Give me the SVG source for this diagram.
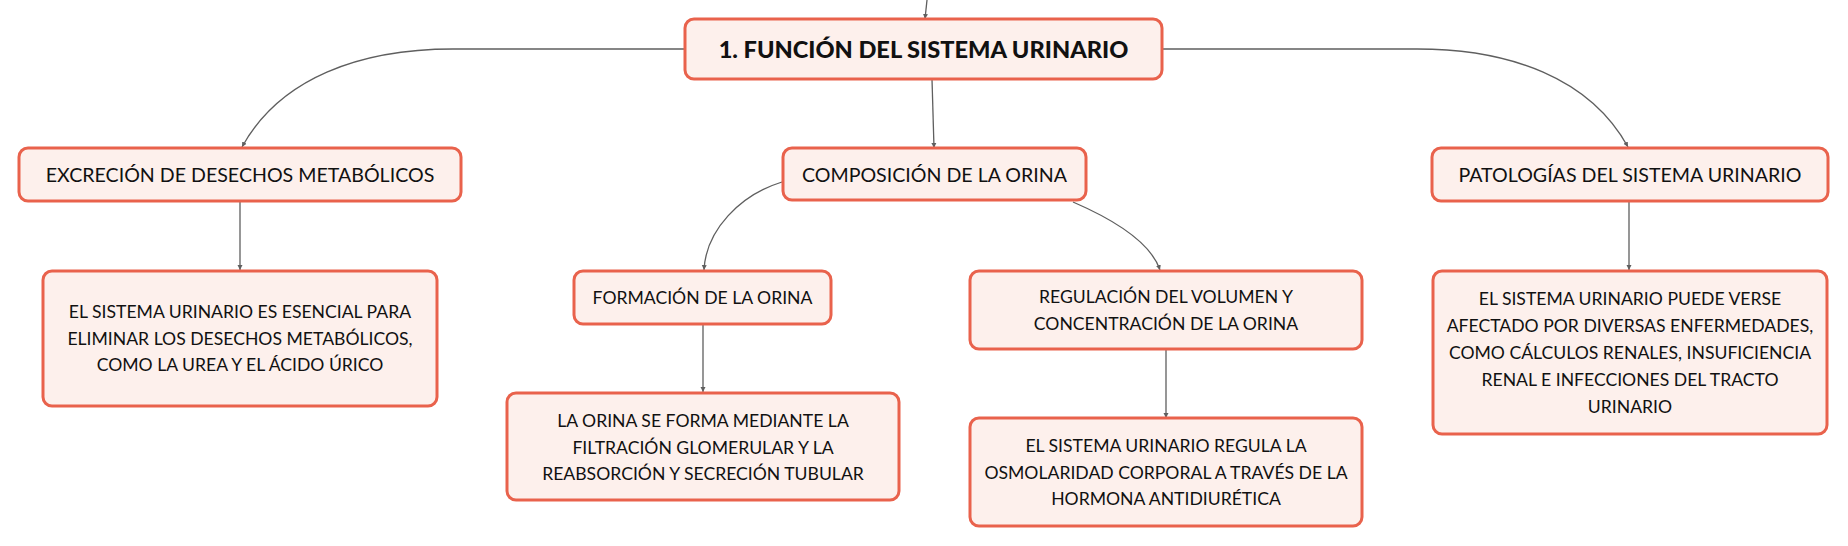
<svg xmlns="http://www.w3.org/2000/svg" width="1848" height="546" viewBox="0 0 1848 546">
<defs>
<style>
.box{fill:#fdf0ec;stroke:#e9624c;stroke-width:3}
.t{font-family:Lato,"Liberation Sans",sans-serif;font-size:17.6px;fill:#111;text-anchor:middle}
.h{font-family:Lato,"Liberation Sans",sans-serif;font-size:19.6px;fill:#111;text-anchor:middle}
.root{font-family:Lato,"Liberation Sans",sans-serif;font-size:23.6px;font-weight:900;fill:#111;text-anchor:middle}
.c{fill:none;stroke:#5f5f5f;stroke-width:1.3}
</style>
<marker id="ar" markerUnits="userSpaceOnUse" markerWidth="6" markerHeight="6" refX="5" refY="3" orient="auto">
<path d="M0,0.5 L5,3 L0,5.5 z" fill="#5f5f5f"/>
</marker>
</defs>
<rect width="1848" height="546" fill="#ffffff"/>
<g id="connectors">
<path class="c" d="M927,0 L925,19" marker-end="url(#ar)"/>
<path class="c" d="M685,49 L453,49 C360,49 280,78 242,147" marker-end="url(#ar)"/>
<path class="c" d="M1162,49 L1417,49 C1510,49 1590,78 1628,147" marker-end="url(#ar)"/>
<path class="c" d="M932,79 L934,148" marker-end="url(#ar)"/>
<path class="c" d="M240,201 L240,270" marker-end="url(#ar)"/>
<path class="c" d="M782,182 C740,195 706,230 704,270" marker-end="url(#ar)"/>
<path class="c" d="M1073,202 C1110,218 1150,240 1160,270" marker-end="url(#ar)"/>
<path class="c" d="M703,324 L703,392" marker-end="url(#ar)"/>
<path class="c" d="M1166,349 L1166,418" marker-end="url(#ar)"/>
<path class="c" d="M1629,201 L1629,270" marker-end="url(#ar)"/>
</g>
<g id="root">
<rect class="box" x="685" y="19" width="477" height="60" rx="9"/>
<text class="root" x="923.5" y="57.5">1. FUNCIÓN DEL SISTEMA URINARIO</text>
</g>
<g id="excrecion">
<rect class="box" x="19" y="148" width="442" height="53" rx="9"/>
<text class="h" x="240" y="182">EXCRECIÓN DE DESECHOS METABÓLICOS</text>
</g>
<g id="excrecion-detalle">
<rect class="box" x="43" y="271" width="394" height="135" rx="9"/>
<text class="t" x="240" y="317.5">EL SISTEMA URINARIO ES ESENCIAL PARA</text>
<text class="t" x="240" y="344.5">ELIMINAR LOS DESECHOS METABÓLICOS,</text>
<text class="t" x="240" y="370.5">COMO LA UREA Y EL ÁCIDO ÚRICO</text>
</g>
<g id="composicion">
<rect class="box" x="783" y="148" width="303" height="52" rx="9"/>
<text class="h" x="934.5" y="182">COMPOSICIÓN DE LA ORINA</text>
</g>
<g id="formacion">
<rect class="box" x="574" y="271" width="257" height="53" rx="9"/>
<text class="t" x="702.5" y="303.5">FORMACIÓN DE LA ORINA</text>
</g>
<g id="formacion-detalle">
<rect class="box" x="507" y="393" width="392" height="107" rx="9"/>
<text class="t" x="703" y="426.5">LA ORINA SE FORMA MEDIANTE LA</text>
<text class="t" x="703" y="453.5">FILTRACIÓN GLOMERULAR Y LA</text>
<text class="t" x="703" y="479.5">REABSORCIÓN Y SECRECIÓN TUBULAR</text>
</g>
<g id="regulacion">
<rect class="box" x="970" y="271" width="392" height="78" rx="9"/>
<text class="t" x="1166" y="302.5">REGULACIÓN DEL VOLUMEN Y</text>
<text class="t" x="1166" y="329.5">CONCENTRACIÓN DE LA ORINA</text>
</g>
<g id="regulacion-detalle">
<rect class="box" x="970" y="418" width="392" height="108" rx="9"/>
<text class="t" x="1166" y="451.5">EL SISTEMA URINARIO REGULA LA</text>
<text class="t" x="1166" y="478.5">OSMOLARIDAD CORPORAL A TRAVÉS DE LA</text>
<text class="t" x="1166" y="504.5">HORMONA ANTIDIURÉTICA</text>
</g>
<g id="patologias">
<rect class="box" x="1432" y="148" width="396" height="53" rx="9"/>
<text class="h" x="1630" y="182">PATOLOGÍAS DEL SISTEMA URINARIO</text>
</g>
<g id="patologias-detalle">
<rect class="box" x="1433" y="271" width="394" height="163" rx="9"/>
<text class="t" x="1630" y="304.5">EL SISTEMA URINARIO PUEDE VERSE</text>
<text class="t" x="1630" y="331.5">AFECTADO POR DIVERSAS ENFERMEDADES,</text>
<text class="t" x="1630" y="358.5">COMO CÁLCULOS RENALES, INSUFICIENCIA</text>
<text class="t" x="1630" y="385.5">RENAL E INFECCIONES DEL TRACTO</text>
<text class="t" x="1630" y="412.5">URINARIO</text>
</g>
</svg>
